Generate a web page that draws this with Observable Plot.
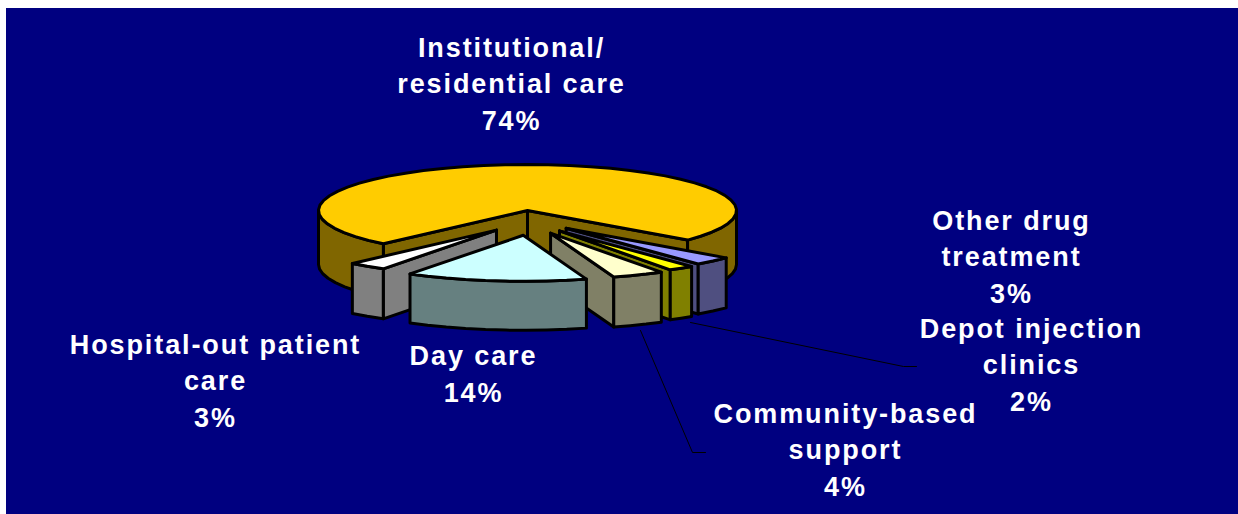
<!DOCTYPE html>
<html><head><meta charset="utf-8">
<script src="https://cdn.jsdelivr.net/npm/d3@7"></script>
<script src="https://cdn.jsdelivr.net/npm/@observablehq/plot@0.6"></script>
<style>html,body{margin:0;padding:0;background:#fff;overflow:hidden}svg{display:block;margin:8px 0 0 6px}</style>
</head><body><script>
// Data, clockwise from the right cut of the largest slice
const categories = ["Institutional/\nresidential care","Other drug\ntreatment","Depot injection\nclinics","Community-based\nsupport","Day care","Hospital-out patient\ncare"];
const shares = [74,3,2,4,14,3];
const topColors  = ["#FFCC00","#9999FF","#FFFF00","#FFFFCC","#CCFFFF","#FFFFFF"];
const wallColors = ["#806600","#4F4F80","#808000","#808066","#668080","#808080"];
const exploded   = [0,1,1,1,1,1];
const nudgeX     = [0,0,0,0,3,3];
const depths     = [54,50,50,50,49,50];
const labelX = [511,1011,1031,845,473,215];
const labelY = [81,254,362,447,371,378];
const leaderSlices = [2,3];
const leaderX = [[690,903,916],[640,692,705]];
const leaderY = [[322,366,366],[330,452,452]];

// Pie geometry (in the pixel space of the x and y scales)
const pie = {cx:527, cy:210, rx:209, ry:46, ex:55, ey:25, start:50};
const rad = d => d*Math.PI/180;
const P = (c, a, dz=0) => ({x:c.x+pie.rx*Math.sin(rad(a)), y:c.y+pie.ry*Math.cos(rad(a))+dz});
// Angle 0 is the front of the pie, positive to the right.
const slices = [{i:0, a1:pie.start, a2:pie.start+shares[0]*3.6}];
let a = pie.start;
for (let i=1;i<shares.length;i++){ slices[i]={i,a2:a,a1:a-shares[i]*3.6}; a=slices[i].a1; }

const rows = [];
function pushPoly(id, fill, pts){ [...pts, pts[0]].forEach(p=>rows.push({id,fill,x:p.x,y:p.y})); }
function arc(c,a1,a2,dz=0){ const n=Math.max(2,Math.ceil(Math.abs(a2-a1)/6)); return d3.range(n+1).map(k=>P(c,a1+(a2-a1)*k/n,dz)); }
function drawSlice(s){
  const mid=(s.a1+s.a2)/2, off=exploded[s.i], depth=depths[s.i];
  const c={x:pie.cx+off*pie.ex*Math.sin(rad(mid))+nudgeX[s.i], y:pie.cy+off*pie.ey*Math.cos(rad(mid))};
  const wall=wallColors[s.i], top=topColors[s.i];
  const apex={x:c.x,y:c.y};
  const side=(a,tag)=>{const q=P(c,a);pushPoly(s.i+tag,wall,[apex,q,{x:q.x,y:q.y+depth},{x:apex.x,y:apex.y+depth}]);};
  if (Math.sin(rad(s.a1))>0) side(s.a1,"a");
  if (Math.sin(rad(s.a2))<0) side(s.a2,"b");
  // outer wall: front half only
  for (const [lo,hi] of [[s.a1,s.a2],[s.a1-360,s.a2-360]]){
    const l=Math.max(lo,-90), h=Math.min(hi,90);
    if (h>l){ const t=arc(c,l,h), b=arc(c,h,l,depth); pushPoly(s.i+"w"+lo,wall,[...t,...b]); }
  }
  pushPoly(s.i+"t",top,[apex,...arc(c,s.a1,s.a2)]);
}
[0,1,2,5,3,4].forEach(i=>drawSlice(slices[i]));

const leaders = leaderSlices.flatMap((s,k)=>leaderX[k].map((x,j)=>({s,x,y:leaderY[k][j]})));
const labels = categories.map((c,i)=>({text:`${c}\n${shares[i]}%`,x:labelX[i],y:labelY[i]}));

const chart = Plot.plot({
  width:1232, height:506, margin:0,
  x:{domain:[6,1238],range:[0,1232],axis:null},
  y:{domain:[8,514],range:[0,506],axis:null},
  color:{type:"identity"},
  style:{background:"#000080",letterSpacing:"1.9px"},
  marks:[
    Plot.line(leaders,{x:"x",y:"y",z:"s",stroke:"#000",strokeWidth:1}),
    Plot.line(rows,{x:"x",y:"y",z:"id",fill:"fill",stroke:"#000",strokeWidth:3,strokeLinejoin:"round"}),
    Plot.text(labels,{x:"x",y:"y",text:"text",lineAnchor:"middle",textAnchor:"middle",lineHeight:1.36,fill:"#fff",fontSize:27,fontWeight:"bold",fontFamily:"'Liberation Sans',Arial,sans-serif"})
  ]
});
document.body.appendChild(chart);
</script></body></html>
